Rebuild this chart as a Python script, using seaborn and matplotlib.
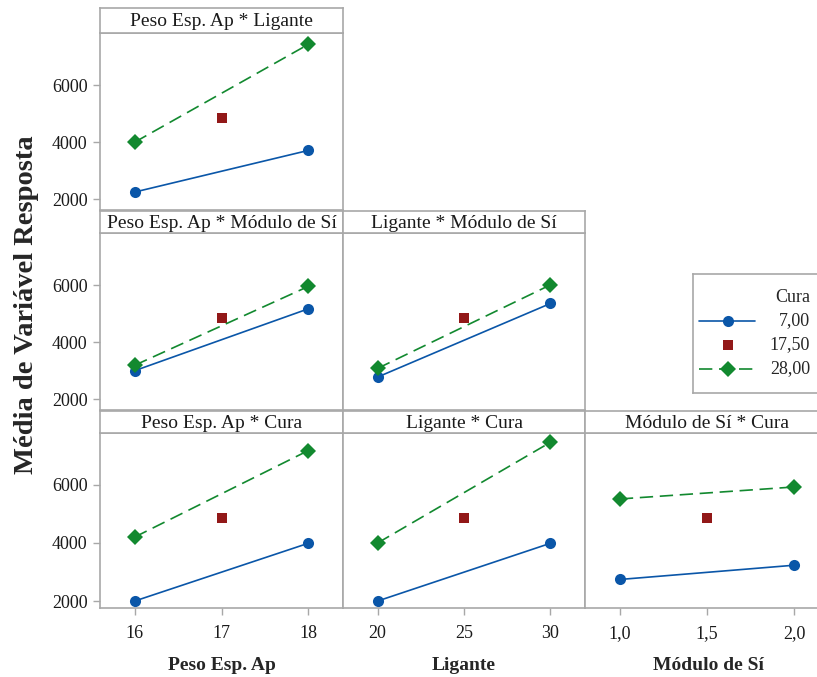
import matplotlib
matplotlib.use("Agg")
import matplotlib.pyplot as plt
import seaborn as sns
import pandas as pd

# factor levels (low, center, high)
peso = [16, 17, 18]
ligante = [20, 25, 30]
modulo = [1.0, 1.5, 2.0]
peso_ticks = ["16", "17", "18"]
ligante_ticks = ["20", "25", "30"]
modulo_ticks = ["1,0", "1,5", "2,0"]

niveis = ["7,00", "17,50", "28,00"]
centro = 4860

# means of the low / high trace level at the low and high x level
peso_ligante_baixo = [2250, 3710]
peso_ligante_alto = [4000, 7430]
peso_modulo_baixo = [3000, 5170]
peso_modulo_alto = [3190, 5955]
ligante_modulo_baixo = [2775, 5357]
ligante_modulo_alto = [3080, 6010]
peso_cura_baixo = [2000, 3990]
peso_cura_alto = [4205, 7185]
ligante_cura_baixo = [2000, 3990]
ligante_cura_alto = [4000, 7470]
modulo_cura_baixo = [2743, 3234]
modulo_cura_alto = [5517, 5930]

cores = {"7,00": "#0A56A8", "17,50": "#921818", "28,00": "#12892F"}
marcadores = {"7,00": "o", "17,50": "s", "28,00": "D"}
tracos = {"7,00": "", "17,50": "", "28,00": (8, 4)}
cinza = "#A8A8A8"

sns.set_style("white")
plt.rcParams["font.family"] = ["Liberation Serif", "DejaVu Serif"]

W, H = 817, 677
fig = plt.figure(figsize=(W / 100, H / 100), dpi=100)


def caixa(x0, y0, x1, y1):
    return [x0 / W, 1 - y1 / H, (x1 - x0) / W, (y1 - y0) / H]


def tabela(x, baixo, alto):
    return pd.DataFrame({
        "x": [x[0], x[2], x[1], x[0], x[2]],
        "y": baixo + [centro] + alto,
        "nivel": [niveis[0], niveis[0], niveis[1], niveis[2], niveis[2]],
    })


cols = [(100, 343), (343, 585), (585, 829)]
linhas = [(8, 33, 210), (211, 233, 410), (411, 433, 608)]
xinfo = [(peso, peso_ticks, (15.6, 18.4)),
         (ligante, ligante_ticks, (18, 32)),
         (modulo, modulo_ticks, (0.8, 2.2))]

paineis = [
    (0, 0, "Peso Esp. Ap * Ligante", peso_ligante_baixo, peso_ligante_alto),
    (1, 0, "Peso Esp. Ap * Módulo de Sí", peso_modulo_baixo, peso_modulo_alto),
    (1, 1, "Ligante * Módulo de Sí", ligante_modulo_baixo, ligante_modulo_alto),
    (2, 0, "Peso Esp. Ap * Cura", peso_cura_baixo, peso_cura_alto),
    (2, 1, "Ligante * Cura", ligante_cura_baixo, ligante_cura_alto),
    (2, 2, "Módulo de Sí * Cura", modulo_cura_baixo, modulo_cura_alto),
]

for r, c, titulo, baixo, alto in paineis:
    x0, x1 = cols[c]
    yh, yt, yb = linhas[r]
    xv, xt, xl = xinfo[c]

    ax = fig.add_axes(caixa(x0, yt, x1, yb))
    df = tabela(xv, baixo, alto)
    sns.lineplot(data=df, x="x", y="y", hue="nivel", style="nivel",
                 hue_order=niveis, style_order=niveis, palette=cores,
                 markers=marcadores, dashes=tracos, markersize=8,
                 linewidth=1.2, markeredgewidth=0, legend=False,
                 sort=False, errorbar=None, ax=ax)
    for ln in ax.lines:
        if ln.get_marker() == "s":
            ln.set_markersize(7)
    ax.set_xlim(xl)
    ax.set_ylim((1760, 7790) if r == 2 else (1620, 7830))
    ax.set_xlabel("")
    ax.set_ylabel("")
    for s in ax.spines.values():
        s.set_color(cinza)
        s.set_linewidth(1.2)
    ax.tick_params(bottom=(r == 2), left=(c == 0), length=5, width=1,
                   color=cinza, labelcolor="#1a1a1a", labelsize=13)
    ax.tick_params(axis="x", pad=7)
    ax.tick_params(axis="y", pad=4)
    if c == 0:
        ax.set_yticks([2000, 4000, 6000])
        ax.set_yticklabels(["2000", "4000", "6000"])
    else:
        ax.set_yticks([])
    if r == 2:
        ax.set_xticks(xv)
        ax.set_xticklabels(xt)
    else:
        ax.set_xticks([])

    hx = fig.add_axes(caixa(x0, yh, x1, yt))
    hx.set_xticks([])
    hx.set_yticks([])
    for s in hx.spines.values():
        s.set_color(cinza)
        s.set_linewidth(1.2)
    hx.text(0.5, 0.45, titulo, ha="center", va="center", fontsize=14,
            color="#1a1a1a", transform=hx.transAxes)

# axis titles
fig.text(27 / W, 1 - 305 / H, "Média de Variável Resposta", rotation=90,
         ha="center", va="center", fontsize=20.5, fontweight="bold")
for (x0, x1), nome in zip(cols, ["Peso Esp. Ap", "Ligante", "Módulo de Sí"]):
    xm = (x0 + x1) / 2 if x1 < 800 else 708
    fig.text(xm / W, 1 - 665 / H, nome, ha="center", va="center",
             fontsize=14, fontweight="bold")

# legend box
lg = fig.add_axes(caixa(693, 274, 830, 393))
lg.set_xlim(0, 137)
lg.set_ylim(119, 0)
lg.set_xticks([])
lg.set_yticks([])
for s in lg.spines.values():
    s.set_color(cinza)
    s.set_linewidth(1.2)
lg.text(117, 24, "Cura", ha="right", va="center", fontsize=13)
for i, nv in enumerate(niveis):
    yy = 47 + 24 * i
    if nv != "17,50":
        lg.plot([6, 62], [yy, yy], color=cores[nv], lw=1.2,
                dashes=tracos[nv] if tracos[nv] else (None, None))
    lg.plot([35], [yy], marker=marcadores[nv], color=cores[nv],
            markersize=8 if nv != "17,50" else 7, markeredgewidth=0)
    lg.text(117, yy, nv, ha="right", va="center", fontsize=13)

fig.savefig("out.png", dpi=100, facecolor="white")
